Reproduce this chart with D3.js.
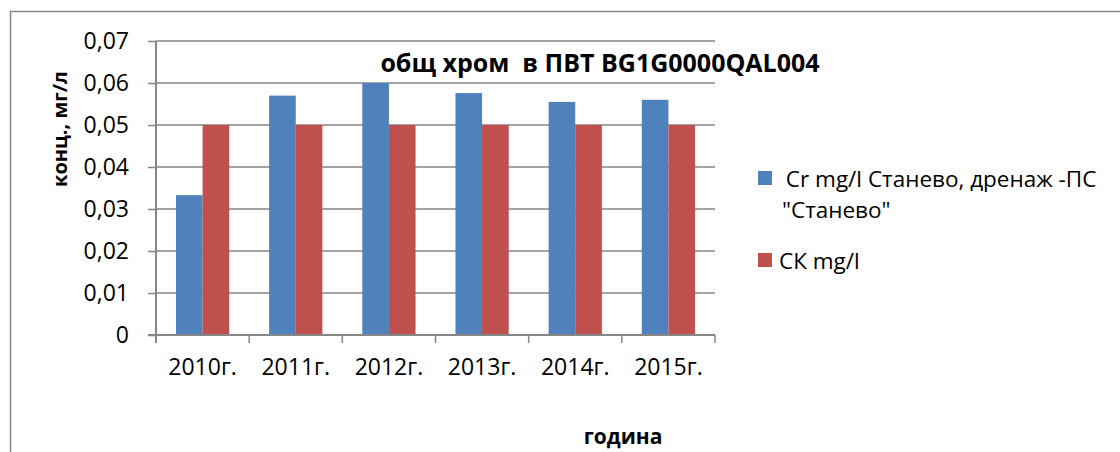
<!DOCTYPE html>
<html>
<head>
<meta charset="utf-8">
<script src="https://cdn.jsdelivr.net/npm/d3@7"></script>
<style>
  body { margin: 0; background: #fff; }
  text { font-family: "Open Sans", "Noto Sans", sans-serif; fill: #000; }
</style>
</head>
<body>
<div id="main"></div>
<script>
const ctx = {
    w: 1120,
    h: 452,
    margin: { top: 41, right: 405, bottom: 117, left: 156 },
};

// data
const years = ["2010г.", "2011г.", "2012г.", "2013г.", "2014г.", "2015г."];
const crValues = [0.0333, 0.0570, 0.0600, 0.0576, 0.0555, 0.0560];
const skValues = [0.05, 0.05, 0.05, 0.05, 0.05, 0.05];
const seriesNames = [" Cr mg/l Станево, дренаж -ПС", "СК mg/l"];
const seriesColors = ["#4f81bd", "#c0504d"];
const yTicks = [0, 0.01, 0.02, 0.03, 0.04, 0.05, 0.06, 0.07];

const axisColor = "#868686";

function createViz() {
    const svg = d3.select("#main").append("svg")
        .attr("width", ctx.w)
        .attr("height", ctx.h);

    svg.append("rect").attr("width", ctx.w).attr("height", ctx.h).attr("fill", "#fff");

    // outer chart frame (runs off the picture at right and bottom)
    svg.append("rect")
        .attr("x", 10.5).attr("y", 11.5)
        .attr("width", ctx.w + 20).attr("height", ctx.h + 20)
        .attr("fill", "none")
        .attr("stroke", axisColor)
        .attr("stroke-width", 1.5);

    const x0 = ctx.margin.left;
    const x1 = ctx.w - ctx.margin.right;
    const yTop = ctx.margin.top;
    const yBot = ctx.h - ctx.margin.bottom;

    const xScale = d3.scaleBand().domain(years).range([x0, x1]);
    const yScale = d3.scaleLinear().domain([0, 0.07]).range([yBot, yTop]);

    // Excel style gap width 150% -> bars = band / 3.5
    const barW = xScale.bandwidth() / 3.5;
    const xSub = d3.scaleBand().domain([0, 1])
        .range([barW * 0.75, barW * 2.75]);

    // gridlines
    svg.append("g")
        .selectAll("line")
        .data(yTicks.filter(d => d > 0))
        .enter().append("line")
        .attr("x1", x0).attr("x2", x1)
        .attr("y1", d => yScale(d)).attr("y2", d => yScale(d))
        .attr("stroke", axisColor)
        .attr("stroke-width", 1.5);

    // bars
    const series = [crValues, skValues];
    series.forEach((vals, si) => {
        svg.append("g")
            .selectAll("rect")
            .data(vals)
            .enter().append("rect")
            .attr("x", (d, i) => xScale(years[i]) + xSub(si))
            .attr("y", d => yScale(d))
            .attr("width", xSub.bandwidth())
            .attr("height", d => yBot - yScale(d))
            .attr("fill", seriesColors[si]);
    });

    // y axis
    const yAxis = d3.axisLeft(yScale)
        .tickValues(yTicks)
        .tickSize(8)
        .tickPadding(19)
        .tickFormat(d => d === 0 ? "0" : d3.format(".2f")(d).replace(".", ","));
    const gy = svg.append("g")
        .attr("transform", `translate(${x0}, 0)`)
        .call(yAxis);
    gy.select(".domain").remove();
    gy.selectAll(".tick line").attr("stroke", axisColor).attr("stroke-width", 1.5);
    gy.append("line")
        .attr("x1", 0).attr("x2", 0).attr("y1", yTop).attr("y2", yBot + 8)
        .attr("stroke", axisColor).attr("stroke-width", 2);
    gy.selectAll(".tick text")
        .style("font-size", "23px")
        .attr("fill", "#000")
        .attr("font-family", "Open Sans");

    // x axis
    const xAxis = d3.axisBottom(xScale).tickSize(0).tickPadding(24);
    const gx = svg.append("g")
        .attr("transform", `translate(0, ${yBot})`)
        .call(xAxis);
    gx.select(".domain").remove();
    gx.append("line")
        .attr("x1", x0 - 8).attr("x2", x1).attr("y1", 0).attr("y2", 0)
        .attr("stroke", axisColor).attr("stroke-width", 2);
    gx.selectAll(".tickmark")
        .data(d3.range(years.length + 1))
        .enter().append("line")
        .attr("x1", i => x0 + i * xScale.step())
        .attr("x2", i => x0 + i * xScale.step())
        .attr("y1", 0).attr("y2", 8)
        .attr("stroke", axisColor).attr("stroke-width", 1.5);
    gx.selectAll(".tick text")
        .style("font-size", "23px")
        .attr("fill", "#000")
        .attr("font-family", "Open Sans");

    // title
    svg.append("text")
        .attr("x", 600)
        .attr("y", 72)
        .style("text-anchor", "middle")
        .style("font-weight", "bold")
        .style("font-size", "25px")
        .style("white-space", "pre")
        .text("общ хром  в ПВТ BG1G0000QAL004");

    // axis titles
    svg.append("text")
        .attr("transform", "translate(67, 129) rotate(-90)")
        .style("text-anchor", "middle")
        .style("font-weight", "bold")
        .style("font-size", "20px")
        .text("конц., мг/л");

    svg.append("text")
        .attr("x", 623)
        .attr("y", 444)
        .style("text-anchor", "middle")
        .style("font-weight", "bold")
        .style("font-size", "21px")
        .text("година");

    // legend
    const leg = svg.append("g");
    leg.append("rect").attr("x", 758).attr("y", 171).attr("width", 14).attr("height", 14)
        .attr("fill", seriesColors[0]);
    leg.append("text").attr("x", 780).attr("y", 187)
        .style("font-size", "22.5px").style("white-space", "pre")
        .text(seriesNames[0]);
    leg.append("text").attr("x", 782).attr("y", 218)
        .style("font-size", "22.5px")
        .text("\"Станево\"");
    leg.append("rect").attr("x", 758).attr("y", 253).attr("width", 14).attr("height", 14)
        .attr("fill", seriesColors[1]);
    leg.append("text").attr("x", 779).attr("y", 269)
        .style("font-size", "22.5px")
        .text(seriesNames[1]);
}

createViz();
</script>
</body>
</html>
